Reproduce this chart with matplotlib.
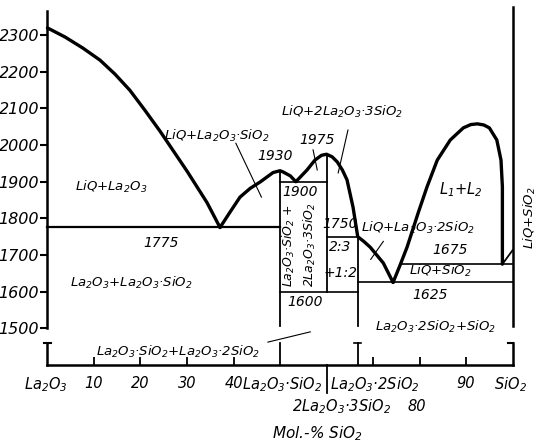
import matplotlib
matplotlib.use("Agg")
import matplotlib.pyplot as plt

plt.rcParams["font.family"] = ["DejaVu Sans"]
plt.rcParams["font.style"] = "italic"
plt.rcParams["mathtext.fontset"] = "dejavusans"
plt.rcParams["mathtext.default"] = "it"

# liquidus curves: mol-% SiO2 and temperature in deg C
liq_la2o3_x = [0, 3.8, 7.6, 11.3, 14.5, 17.7, 20.9, 24.2, 30.0, 34.3, 37.1]
liq_la2o3_t = [2320, 2295, 2265, 2232, 2194, 2150, 2096, 2038, 1929, 1843, 1775]

liq_mid_x = [37.1, 39.3, 41.4, 43.6, 45.7, 48.5, 50.0, 50.6, 52.2, 53.4, 55.8, 57.5,
             58.9, 60.0, 61.2, 62.3, 63.4, 64.4, 65.7, 66.7, 68.0, 69.4, 72.2, 74.3]
liq_mid_t = [1775, 1818, 1858, 1882, 1899, 1925, 1930, 1927, 1916, 1900, 1932, 1959,
             1972, 1975, 1968, 1954, 1932, 1905, 1830, 1750, 1737, 1721, 1678, 1625]

# from the 1625 eutectic over the two-liquid dome down to the monotectic
liq_gap_x = [74.3, 75.8, 77.3, 79.7, 81.6, 83.8, 86.6, 89.4, 91.0, 92.4, 93.8, 95.0,
             96.6, 97.5, 97.8, 97.8, 97.8]
liq_gap_t = [1625, 1672, 1721, 1815, 1886, 1959, 2014, 2047, 2056, 2058, 2055, 2047,
             2014, 1959, 1886, 1815, 1675]

liq_sio2_x = [97.8, 100]
liq_sio2_t = [1675, 1713]

# invariant lines
iso_t = [1775, 1900, 1750, 1675, 1625, 1600]
iso_x0 = [0, 50, 60, 75.9, 66.7, 50]
iso_x1 = [50, 60, 66.7, 100, 100, 66.7]

# compounds: La2O3*SiO2, 2La2O3*3SiO2, La2O3*2SiO2, SiO2
comp_x = [50, 60, 66.7, 100]
comp_top = [1930, 1975, 1750, 2377]
comp_bottom = [1505, 1600, 1505, 1505]

y_ticks = [1500, 1600, 1700, 1800, 1900, 2000, 2100, 2200, 2300]
x_ticks = [10, 20, 30, 40, 70, 80, 90]
t_base = 1400   # temperature level of the broken composition axis
t_low = 1460    # top of the low-temperature strip

fig = plt.figure(figsize=(5.41, 4.43), dpi=100)
ax = fig.add_axes([0, 0, 1, 1])
ax.set_xlim(-10.2, 106.1)
ax.set_ylim(1186.5, 2396.2)

# axes
ax.spines["top"].set_visible(False)
ax.spines["right"].set_visible(False)
ax.spines["left"].set_position(("data", 0))
ax.spines["left"].set_bounds(1500, 2365)
ax.spines["bottom"].set_position(("data", t_base))
ax.spines["bottom"].set_bounds(0, 100)
for s in ["left", "bottom"]:
    ax.spines[s].set_linewidth(1.8)
ax.set_yticks(y_ticks)
ax.set_yticklabels([str(v) for v in y_ticks])
ax.tick_params(axis="y", direction="out", length=5, width=1.5, labelsize=11.5, pad=1)
ax.set_xticks(x_ticks)
ax.set_xticklabels([])
ax.tick_params(axis="x", direction="in", length=6, width=1.3)

bold = dict(color="black", lw=2.4, solid_capstyle="round", solid_joinstyle="round")
ax.plot(liq_la2o3_x, liq_la2o3_t, **bold)
ax.plot(liq_mid_x, liq_mid_t, **bold)
ax.plot(liq_gap_x, liq_gap_t, **bold)
ax.plot(liq_sio2_x, liq_sio2_t, color="black", lw=1.3)

for t, a, b in zip(iso_t, iso_x0, iso_x1):
    ax.plot([a, b], [t, t], color="black", lw=1.6 if t == 1775 else 1.2)

for x, top, bot in zip(comp_x, comp_top, comp_bottom):
    ax.plot([x, x], [bot, top], color="black", lw=1.8 if x == 100 else 1.3)

# low-temperature strip under the axis break
for x in [0, 50, 66.7, 100]:
    ax.plot([x, x], [t_base, t_low], color="black", lw=1.8 if x in (0, 100) else 1.3)
ax.plot([-0.8, 0.8], [t_low, t_low], color="black", lw=1.5)
ax.plot([66.0, 67.4], [t_low, t_low], color="black", lw=1.2)
ax.plot([99.0, 100], [t_low, t_low], color="black", lw=1.5)
ax.plot([60, 60], [t_base, 1323], color="black", lw=1.3)

# pointer lines
thin = dict(color="black", lw=0.8)
ax.plot([40.5, 46.0], [2005, 1858], **thin)
ax.plot([57.1, 58.0], [1987, 1932], **thin)
ax.plot([64.6, 62.5], [2041, 1924], **thin)
ax.plot([69.5, 72.2], [1688, 1737], **thin)
ax.plot([47.4, 56.5], [1462, 1490], **thin)

lab = dict(ha="center", va="center", fontsize=9.5)
num = dict(ha="center", va="center", fontsize=10)
ax.text(13.7, 1886, "LiQ+La$_2$O$_3$", **lab)
ax.text(36.3, 2025, "LiQ+La$_2$O$_3$·SiO$_2$", **lab)
ax.text(63.3, 2090, "LiQ+2La$_2$O$_3$·3SiO$_2$", **lab)
ax.text(79.7, 1773, "LiQ+La$_2$O$_3$·2SiO$_2$", **lab)
ax.text(18.0, 1623, "La$_2$O$_3$+La$_2$O$_3$·SiO$_2$", **lab)
ax.text(28.0, 1435, "La$_2$O$_3$·SiO$_2$+La$_2$O$_3$·2SiO$_2$", **lab)
ax.text(83.5, 1503, "La$_2$O$_3$·2SiO$_2$+SiO$_2$", **lab)
ax.text(84.4, 1656, "LiQ+SiO$_2$", **lab)
ax.text(88.9, 1877, "L$_1$+L$_2$", fontsize=10.5, ha="center", va="center")
ax.text(103.8, 1801, "LiQ+SiO$_2$", rotation=90, **lab)
ax.text(52.0, 1727, "La$_2$O$_3$·SiO$_2$ +", rotation=90, ha="center", va="center", fontsize=9)
ax.text(56.5, 1727, "2La$_2$O$_3$·3SiO$_2$", rotation=90, ha="center", va="center", fontsize=9)

ax.text(48.9, 1970, "1930", **num)
ax.text(58.0, 2014, "1975", **num)
ax.text(54.3, 1872, "1900", **num)
ax.text(62.9, 1784, "1750", **num)
ax.text(62.9, 1721, "2:3", **num)
ax.text(62.9, 1651, "+1:2", **num)
ax.text(55.4, 1571, "1600", **num)
ax.text(24.4, 1732, "1775", **num)
ax.text(86.6, 1713, "1675", **num)
ax.text(82.3, 1591, "1625", **num)

# composition axis labels
xl = dict(ha="center", va="center", fontsize=10.5)
ax.text(-0.3, 1345, "La$_2$O$_3$", **xl)
for v in [10, 20, 30, 40, 90]:
    ax.text(v, 1350, str(v), **xl)
ax.text(50.4, 1345, "La$_2$O$_3$·SiO$_2$", **xl)
ax.text(70.4, 1345, "La$_2$O$_3$·2SiO$_2$", **xl)
ax.text(63.3, 1286, "2La$_2$O$_3$·3SiO$_2$", **xl)
ax.text(79.5, 1286, "80", **xl)
ax.text(99.5, 1345, "SiO$_2$", **xl)
ax.text(58.0, 1213, "Mol.-% SiO$_2$", ha="center", va="center", fontsize=11)

fig.savefig("out.png", dpi=100)
